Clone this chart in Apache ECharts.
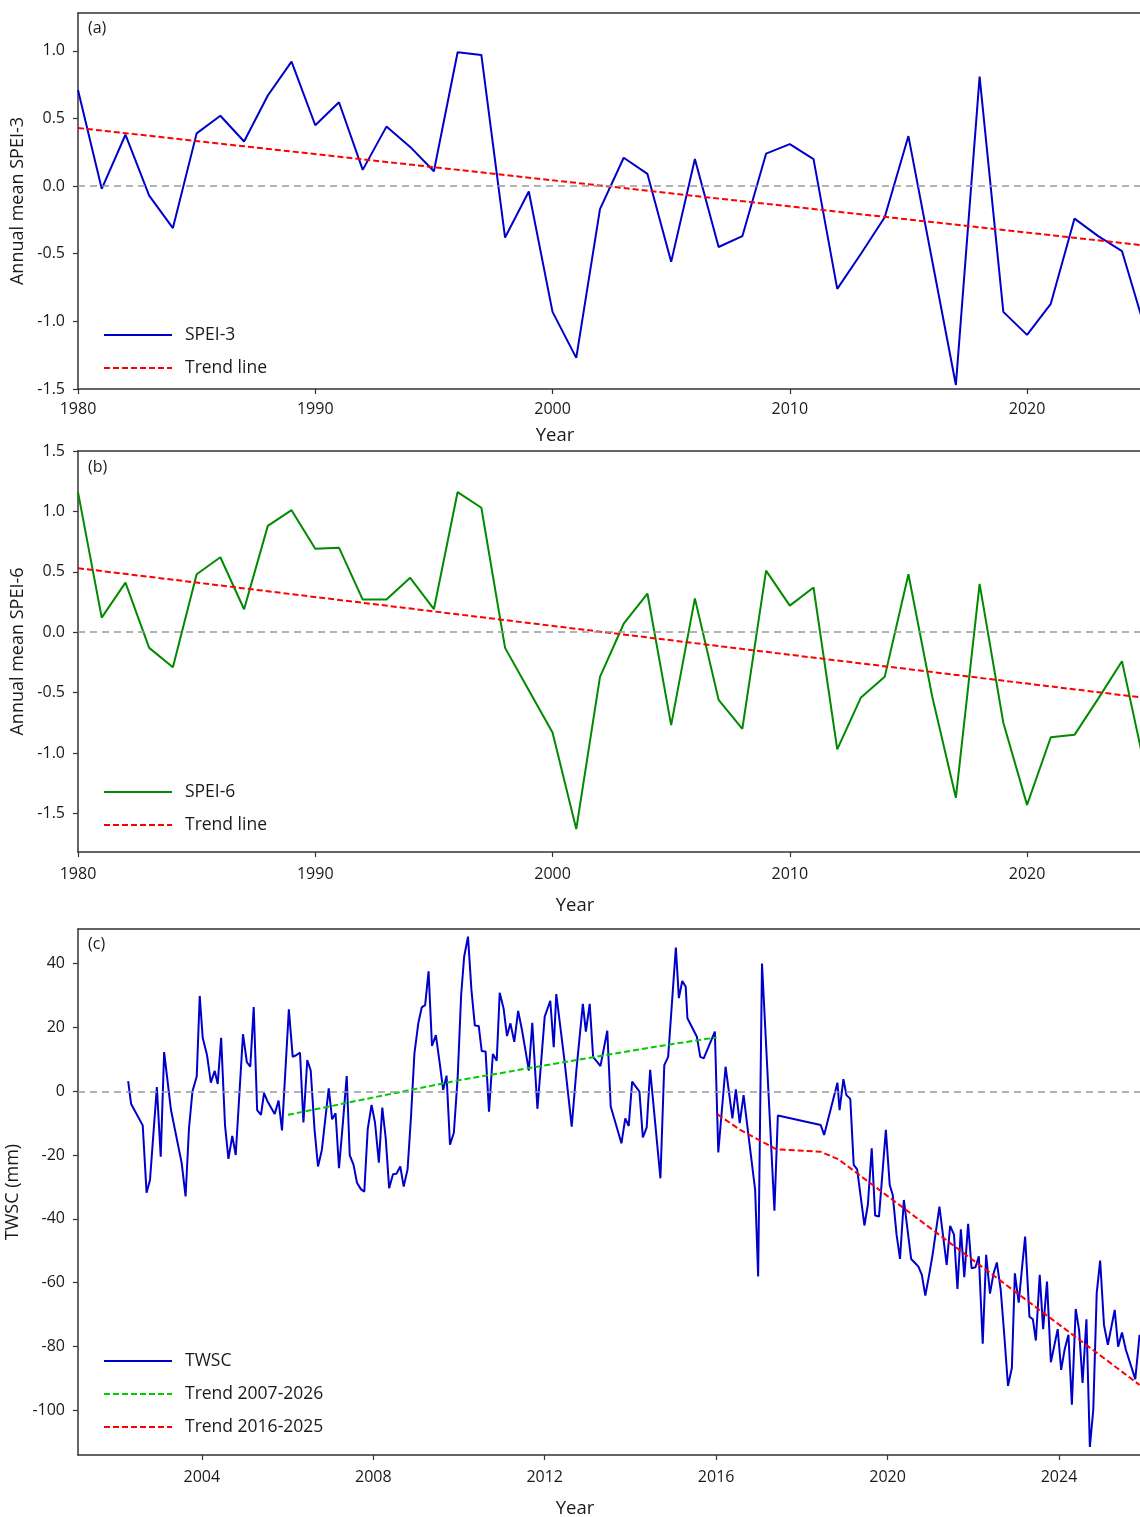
<!DOCTYPE html>
<html>
<head>
<meta charset="utf-8">
<script src="https://cdn.jsdelivr.net/npm/echarts@6/dist/echarts.min.js"></script>
<style>
html,body{margin:0;padding:0;background:#fff;}
#chart{width:1140px;height:1517px;}
</style>
</head>
<body>
<div id="chart"></div>
<script>
// ---------- DATA ----------
const years = [1980,1981,1982,1983,1984,1985,1986,1987,1988,1989,
  1990,1991,1992,1993,1994,1995,1996,1997,1998,1999,
  2000,2001,2002,2003,2004,2005,2006,2007,2008,2009,
  2010,2011,2012,2013,2014,2015,2016,2017,2018,2019,
  2020,2021,2022,2023,2024,2025];

const spei3 = [0.71,-0.02,0.38,-0.07,-0.31,0.39,0.52,0.33,0.67,0.92,
  0.45,0.62,0.12,0.44,0.29,0.11,0.99,0.97,-0.38,-0.04,
  -0.93,-1.27,-0.17,0.21,0.09,-0.56,0.20,-0.45,-0.37,0.24,
  0.31,0.20,-0.76,-0.50,-0.23,0.37,-0.55,-1.47,0.81,-0.93,
  -1.10,-0.87,-0.24,-0.37,-0.48,-1.07];

const spei6 = [1.16,0.12,0.41,-0.13,-0.29,0.48,0.62,0.19,0.88,1.01,
  0.69,0.70,0.27,0.27,0.45,0.19,1.16,1.03,-0.13,-0.48,
  -0.83,-1.63,-0.37,0.07,0.32,-0.77,0.28,-0.56,-0.80,0.51,
  0.22,0.37,-0.97,-0.54,-0.37,0.48,-0.53,-1.37,0.40,-0.75,
  -1.43,-0.87,-0.85,-0.55,-0.24,-1.15];

const trend3Years = [1980, 2025];
const trend3Values = [0.43, -0.44];
const trend6Years = [1980, 2025];
const trend6Values = [0.53, -0.545];

const twscTime = [2002.28,2002.35,2002.62,2002.71,2002.79,2002.95,2003.04,2003.12,2003.28,2003.53,
  2003.62,2003.70,2003.78,2003.88,2003.95,2004.02,2004.12,2004.21,2004.30,2004.37,
  2004.45,2004.54,2004.62,2004.71,2004.79,2004.96,2005.05,2005.13,2005.21,2005.29,
  2005.38,2005.45,2005.54,2005.70,2005.79,2005.87,2006.03,2006.12,2006.20,2006.29,
  2006.37,2006.46,2006.54,2006.63,2006.71,2006.80,2006.96,2007.04,2007.12,2007.20,
  2007.29,2007.38,2007.45,2007.54,2007.62,2007.71,2007.79,2007.87,2007.96,2008.04,
  2008.13,2008.21,2008.29,2008.37,2008.46,2008.54,2008.63,2008.71,2008.80,2008.88,
  2008.96,2009.05,2009.13,2009.21,2009.29,2009.37,2009.46,2009.55,2009.63,2009.71,
  2009.79,2009.88,2009.97,2010.05,2010.12,2010.21,2010.29,2010.37,2010.46,2010.53,
  2010.62,2010.70,2010.79,2010.88,2010.95,2011.04,2011.12,2011.20,2011.29,2011.38,
  2011.47,2011.55,2011.63,2011.71,2011.83,2012.00,2012.04,2012.13,2012.21,2012.27,
  2012.46,2012.63,2012.74,2012.89,2012.96,2013.05,2013.13,2013.22,2013.30,2013.46,
  2013.54,2013.79,2013.88,2013.96,2014.04,2014.21,2014.29,2014.38,2014.46,2014.70,
  2014.79,2014.88,2015.06,2015.13,2015.21,2015.29,2015.33,2015.55,2015.63,2015.71,
  2015.97,2016.05,2016.22,2016.38,2016.46,2016.55,2016.64,2016.91,2016.98,2017.07,
  2017.36,2017.44,2018.44,2018.52,2018.83,2018.88,2018.97,2019.04,2019.13,2019.21,
  2019.29,2019.46,2019.54,2019.63,2019.71,2019.80,2019.96,2020.05,2020.12,2020.21,
  2020.29,2020.38,2020.55,2020.63,2020.72,2020.80,2020.88,2020.97,2021.05,2021.21,
  2021.38,2021.46,2021.55,2021.63,2021.71,2021.79,2021.88,2021.96,2022.05,2022.13,
  2022.22,2022.30,2022.39,2022.47,2022.55,2022.64,2022.72,2022.81,2022.90,2022.97,
  2023.06,2023.14,2023.21,2023.31,2023.39,2023.46,2023.55,2023.63,2023.72,2023.81,
  2023.97,2024.05,2024.13,2024.22,2024.30,2024.39,2024.47,2024.55,2024.64,2024.72,
  2024.80,2024.88,2024.96,2025.05,2025.14,2025.30,2025.38,2025.47,2025.56,2025.78,
  2025.88];

const twscValue = [3.2,-4.0,-10.7,-31.8,-27.8,1.3,-20.5,12.3,-5.9,-22.6,
  -33.0,-11.6,-0.1,4.6,29.9,16.8,11.4,2.7,6.4,2.3,
  16.8,-10.6,-21.2,-14.0,-20.0,17.9,9.1,7.7,26.4,-5.9,
  -7.4,-0.6,-3.4,-7.1,-2.9,-12.3,25.7,10.8,11.3,12.1,
  -9.8,9.8,6.5,-12.1,-23.6,-18.4,0.9,-8.8,-6.9,-24.1,
  -10.0,4.8,-20.0,-23.1,-28.7,-30.7,-31.5,-11.9,-4.3,-9.8,
  -22.4,-5.1,-14.7,-30.4,-26.0,-25.9,-23.6,-29.9,-24.5,-8.0,
  11.9,21.3,26.3,27.0,37.6,14.2,17.6,8.8,0.4,4.9,
  -16.8,-13.0,4.6,30.2,42.2,48.5,31.8,20.6,20.5,12.6,
  12.5,-6.4,11.7,9.6,30.9,26.0,17.3,21.3,15.5,25.2,
  19.2,12.9,6.5,21.5,-5.5,23.4,23.6,28.4,13.8,30.5,
  9.8,-11.1,6.7,27.4,18.7,27.4,10.7,9.3,7.9,19.0,
  -4.8,-16.3,-8.5,-10.9,3.0,-0.1,-14.5,-11.3,6.7,-27.3,
  8.2,10.8,45.1,29.2,34.6,32.8,22.9,17.1,10.8,10.3,
  18.7,-19.2,7.7,-8.5,0.6,-10.0,-1.2,-30.9,-58.1,40.1,
  -37.5,-7.6,-10.6,-13.7,2.7,-5.9,3.8,-1.2,-2.4,-23.1,
  -24.5,-42.1,-35.6,-17.9,-39.0,-39.3,-12.1,-29.4,-32.5,-45.0,
  -52.6,-34.1,-52.6,-53.7,-55.0,-57.6,-64.1,-57.6,-51.3,-36.2,
  -54.5,-42.2,-45.0,-62.0,-43.3,-58.3,-41.6,-55.5,-55.2,-51.8,
  -79.2,-51.3,-63.5,-57.3,-53.7,-62.3,-75.9,-92.4,-86.8,-57.1,
  -66.3,-55.0,-45.6,-70.7,-71.5,-78.2,-57.6,-74.6,-59.7,-85.0,
  -74.6,-87.4,-81.1,-76.4,-98.3,-68.3,-75.0,-91.5,-71.5,-111.6,
  -99.9,-63.3,-53.1,-73.3,-79.5,-68.6,-80.1,-75.7,-81.1,-90.3,
  -76.4];

const trendGreenTime = [2006.01, 2008.2, 2010.02, 2012.3, 2014.69, 2016.01];
const trendGreenValue = [-7.4, -1.4, 3.5, 8.8, 14.2, 16.9];
const trendRedTime = [2016.03, 2016.56, 2017.41, 2018.44, 2018.85, 2025.88];
const trendRedValue = [-7.2, -12.1, -18.2, -19.0, -21.3, -92.1];

const xTicksAB = [1980, 1990, 2000, 2010, 2020];
const yTicksA = [-1.5, -1.0, -0.5, 0.0, 0.5, 1.0];
const yTicksB = [-1.5, -1.0, -0.5, 0.0, 0.5, 1.0, 1.5];
const xTicksC = [2004, 2008, 2012, 2016, 2020, 2024];
const yTicksC = [-100, -80, -60, -40, -20, 0, 20, 40];

// ---------- CHART ----------
const FONT = "'Open Sans', 'Noto Sans', sans-serif";
const TXT = '#1a1a1a';
const AX = '#333333';
const zip = (a, b) => a.map((v, i) => [v, b[i]]);

function xAxisDef(gi, min, max, ticks, nameShift, nameGap, labelMargin) {
  return {
    type: 'value', gridIndex: gi, min: min, max: max, position: 'bottom',
    name: 'Year', nameLocation: 'middle', nameGap: nameGap,
    nameTextStyle: {fontFamily: FONT, fontSize: 18.5, color: TXT, padding: [0, nameShift, 0, 0]},
    axisLine: {show: true, onZero: false, lineStyle: {color: AX, width: 1.5}},
    axisTick: {show: true, inside: false, length: 5, customValues: ticks, lineStyle: {color: AX, width: 1.2}},
    axisLabel: {show: true, margin: labelMargin, customValues: ticks, fontFamily: FONT, fontSize: 16, color: TXT,
      formatter: v => String(v)},
    splitLine: {show: false}
  };
}
function topAxisDef(gi, min, max) {
  return {
    type: 'value', gridIndex: gi, min: min, max: max, position: 'top',
    axisLine: {show: true, onZero: false, lineStyle: {color: AX, width: 1.5}},
    axisTick: {show: false}, axisLabel: {show: false}, splitLine: {show: false}
  };
}
function yAxisDef(gi, min, max, ticks, name, digits) {
  return {
    type: 'value', gridIndex: gi, min: min, max: max,
    name: name, nameLocation: 'middle', nameGap: 51,
    nameTextStyle: {fontFamily: FONT, fontSize: 18, color: TXT},
    axisLine: {show: true, onZero: false, lineStyle: {color: AX, width: 1.5}},
    axisTick: {show: true, inside: false, length: 5, customValues: ticks, lineStyle: {color: AX, width: 1.2}},
    axisLabel: {show: true, margin: 13, customValues: ticks, fontFamily: FONT, fontSize: 16, color: TXT,
      formatter: v => v.toFixed(digits)},
    splitLine: {show: false}
  };
}
const zeroLine = {
  silent: true, symbol: 'none', label: {show: false}, animation: false,
  lineStyle: {color: '#999999', type: [7, 5], width: 1.5},
  data: [{yAxis: 0}]
};
function legendDef(names, top) {
  return {
    data: names, orient: 'vertical', left: 103, top: top, padding: 0,
    itemWidth: 68, itemHeight: 14, itemGap: 13, selectedMode: false,
    itemStyle: {opacity: 0},
    textStyle: {fontFamily: FONT, fontSize: 17.5, color: TXT, lineHeight: 20, padding: [0, 0, 0, 8]}
  };
}

const option = {
  animation: false,
  backgroundColor: '#ffffff',
  title: [
    {text: '(a)', left: 83, top: 15, textStyle: {fontFamily: FONT, fontSize: 16, fontWeight: 'normal', color: TXT}},
    {text: '(b)', left: 83, top: 454, textStyle: {fontFamily: FONT, fontSize: 16, fontWeight: 'normal', color: TXT}},
    {text: '(c)', left: 83, top: 931, textStyle: {fontFamily: FONT, fontSize: 16, fontWeight: 'normal', color: TXT}}
  ],
  grid: [
    {left: 78, top: 13, width: 1062, height: 376, outerBoundsMode: 'none', containLabel: false},
    {left: 78, top: 451, width: 1062, height: 401, outerBoundsMode: 'none', containLabel: false},
    {left: 78, top: 929, width: 1062, height: 526, outerBoundsMode: 'none', containLabel: false}
  ],
  legend: [
    legendDef(['SPEI-3', 'Trend line'], 325),
    legendDef(['SPEI-6', 'Trend line'], 782),
    legendDef(['TWSC', 'Trend 2007-2026', 'Trend 2016-2025'], 1351)
  ],
  xAxis: [
    xAxisDef(0, 1980, 2024.76, xTicksAB, 108, 37, 12),
    xAxisDef(1, 1980, 2024.76, xTicksAB, 68, 44, 14),
    xAxisDef(2, 2001.11, 2025.89, xTicksC, 68, 44, 14),
    topAxisDef(0, 1980, 2024.76),
    topAxisDef(1, 1980, 2024.76),
    topAxisDef(2, 2001.11, 2025.89)
  ],
  yAxis: [
    yAxisDef(0, -1.5, 1.28, yTicksA, 'Annual mean SPEI-3', 1),
    yAxisDef(1, -1.82, 1.5, yTicksB, 'Annual mean SPEI-6', 1),
    yAxisDef(2, -114.1, 50.9, yTicksC, 'TWSC (mm)', 0)
  ],
  series: [
    {name: 'SPEI-3', type: 'line', xAxisIndex: 0, yAxisIndex: 0, data: zip(years, spei3),
      symbol: 'none', lineStyle: {color: '#0000cd', width: 2}, itemStyle: {color: '#0000cd'}, markLine: zeroLine, z: 2},
    {name: 'Trend line', type: 'line', xAxisIndex: 0, yAxisIndex: 0, data: zip(trend3Years, trend3Values),
      symbol: 'none', lineStyle: {color: '#ff0000', width: 2, type: [6, 3]}, itemStyle: {color: '#ff0000'}, z: 3},
    {name: 'SPEI-6', type: 'line', xAxisIndex: 1, yAxisIndex: 1, data: zip(years, spei6),
      symbol: 'none', lineStyle: {color: '#008a00', width: 2}, itemStyle: {color: '#008a00'}, markLine: zeroLine, z: 2},
    {name: 'Trend line', type: 'line', xAxisIndex: 1, yAxisIndex: 1, data: zip(trend6Years, trend6Values),
      symbol: 'none', lineStyle: {color: '#ff0000', width: 2, type: [6, 3]}, itemStyle: {color: '#ff0000'}, z: 3},
    {name: 'TWSC', type: 'line', xAxisIndex: 2, yAxisIndex: 2, data: zip(twscTime, twscValue),
      symbol: 'none', lineStyle: {color: '#0000cd', width: 2}, itemStyle: {color: '#0000cd'}, markLine: zeroLine, z: 2},
    {name: 'Trend 2007-2026', type: 'line', xAxisIndex: 2, yAxisIndex: 2, data: zip(trendGreenTime, trendGreenValue),
      symbol: 'none', lineStyle: {color: '#00cc00', width: 2, type: [6, 3]}, itemStyle: {color: '#00cc00'}, z: 3},
    {name: 'Trend 2016-2025', type: 'line', xAxisIndex: 2, yAxisIndex: 2, data: zip(trendRedTime, trendRedValue),
      symbol: 'none', lineStyle: {color: '#ff0000', width: 2, type: [6, 3]}, itemStyle: {color: '#ff0000'}, z: 3}
  ]
};

const chart = echarts.init(document.getElementById('chart'), null, {renderer: 'canvas'});
chart.setOption(option);
</script>
</body>
</html>
